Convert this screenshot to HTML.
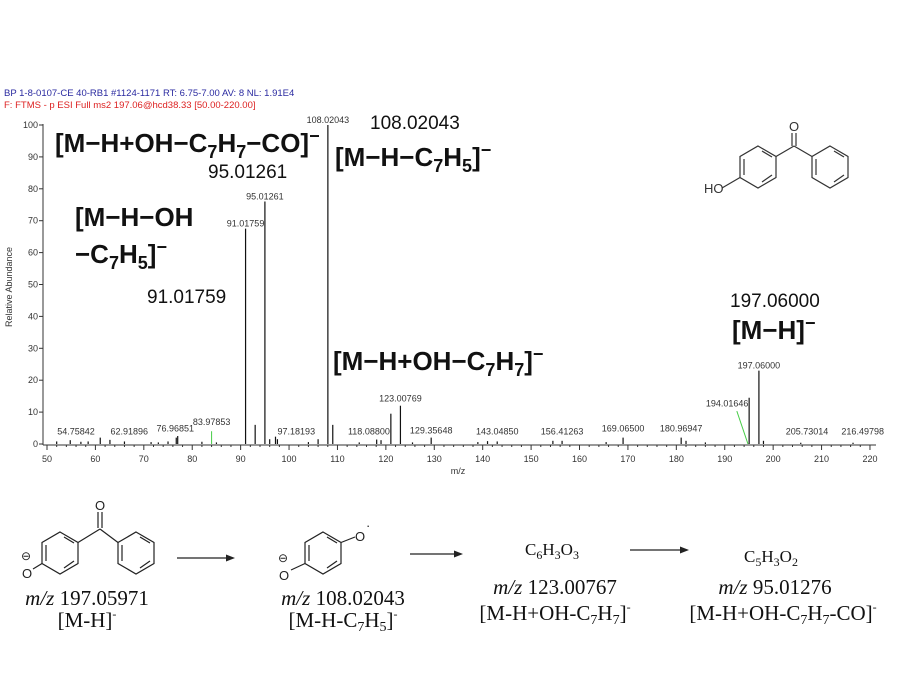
<!DOCTYPE html>
<html><head><meta charset="utf-8"><style>
body{margin:0;background:#fff;width:900px;height:675px;overflow:hidden}
svg{display:block}
.s{font-family:"Liberation Sans",sans-serif;font-size:9px;fill:#333}
.b{font-family:"Liberation Sans",sans-serif;font-weight:bold;font-size:26px;fill:#111}
.n{font-family:"Liberation Sans",sans-serif;font-size:19px;fill:#111}
.r{font-family:"Liberation Serif",serif;font-size:21px;fill:#111}
.r2{font-family:"Liberation Serif",serif;font-size:17px;fill:#111}
</style></head><body>
<svg width="900" height="675" viewBox="0 0 900 675" xmlns="http://www.w3.org/2000/svg">
<text x="4" y="96" style="font-family:'Liberation Sans',sans-serif;font-size:9.5px;fill:#2a2aa0">BP 1-8-0107-CE 40-RB1 #1124-1171   RT: 6.75-7.00   AV: 8   NL: 1.91E4</text>
<text x="4" y="108" style="font-family:'Liberation Sans',sans-serif;font-size:9.5px;fill:#d22">F: FTMS - p ESI Full ms2 197.06@hcd38.33 [50.00-220.00]</text>
<g stroke="#333" stroke-width="1" fill="none">
<line x1="43" y1="124" x2="43" y2="445"/>
<line x1="43" y1="445" x2="876" y2="445"/>
</g>
<g class="s" text-anchor="end" id="yt"></g>
<g id="plot"></g>
<text x="10" y="285" class="s" transform="rotate(-90 12 285)" text-anchor="middle">Relative Abundance</text>
<text x="458" y="474" class="s" text-anchor="middle">m/z</text>
<text x="55" y="152" class="b">[M−H+OH−C<tspan font-size="18" dy="6">7</tspan><tspan dy="-6">H</tspan><tspan font-size="18" dy="6">7</tspan><tspan dy="-6">−CO]</tspan><tspan font-size="18" dy="-10">−</tspan></text>
<text x="208" y="178" class="n">95.01261</text>
<text x="370" y="129" class="n">108.02043</text>
<text x="335" y="166" class="b">[M−H−C<tspan font-size="18" dy="6">7</tspan><tspan dy="-6">H</tspan><tspan font-size="18" dy="6">5</tspan><tspan dy="-6">]</tspan><tspan font-size="18" dy="-10">−</tspan></text>
<text x="75" y="226" class="b">[M−H−OH</text>
<text x="75" y="263" class="b">−C<tspan font-size="18" dy="6">7</tspan><tspan dy="-6">H</tspan><tspan font-size="18" dy="6">5</tspan><tspan dy="-6">]</tspan><tspan font-size="18" dy="-10">−</tspan></text>
<text x="147" y="303" class="n">91.01759</text>
<text x="730" y="307" class="n">197.06000</text>
<text x="732" y="339" class="b">[M−H]<tspan font-size="18" dy="-10">−</tspan></text>
<text x="333" y="370" class="b">[M−H+OH−C<tspan font-size="18" dy="6">7</tspan><tspan dy="-6">H</tspan><tspan font-size="18" dy="6">7</tspan><tspan dy="-6">]</tspan><tspan font-size="18" dy="-10">−</tspan></text>
<g stroke="#333" stroke-width="1.2" fill="none">
<polygon points="758,146 776,156.5 776,177.5 758,188 740,177.5 740,156.5"/>
<line x1="762" y1="151" x2="772" y2="157"/><line x1="772" y1="175" x2="762" y2="182"/><line x1="744" y1="159" x2="744" y2="175"/>
<line x1="776" y1="156.5" x2="794" y2="146"/><line x1="794" y1="146" x2="812" y2="156.5"/>
<line x1="792" y1="146" x2="792" y2="133"/><line x1="796" y1="146" x2="796" y2="133"/>
<polygon points="830,146 848,156.5 848,177.5 830,188 812,177.5 812,156.5"/>
<line x1="834" y1="151" x2="844" y2="157"/><line x1="844" y1="175" x2="834" y2="182"/><line x1="816" y1="159" x2="816" y2="175"/>
<line x1="740" y1="177.5" x2="722" y2="188"/>
</g>
<text x="794" y="131" text-anchor="middle" style="font-family:'Liberation Sans';font-size:13px;fill:#333">O</text>
<text x="704" y="193" style="font-family:'Liberation Sans';font-size:13px;fill:#333">HO</text>
<g stroke="#222" stroke-width="1.2" fill="none">
<polygon points="60,532 78,542.5 78,563.5 60,574 42,563.5 42,542.5"/>
<line x1="64" y1="537" x2="74" y2="543"/><line x1="74" y1="561" x2="64" y2="568"/><line x1="46" y1="545" x2="46" y2="561"/>
<line x1="78" y1="542.5" x2="100" y2="529"/><line x1="100" y1="529" x2="118" y2="542.5"/>
<line x1="98" y1="528" x2="98" y2="512"/><line x1="102" y1="528" x2="102" y2="512"/>
<polygon points="136,532 154,542.5 154,563.5 136,574 118,563.5 118,542.5"/>
<line x1="140" y1="537" x2="150" y2="543"/><line x1="150" y1="561" x2="140" y2="568"/><line x1="122" y1="545" x2="122" y2="561"/>
<line x1="42" y1="563.5" x2="33" y2="569"/>
<line x1="177" y1="558" x2="228" y2="558"/>
<polygon points="323,532 341,542.5 341,563.5 323,574 305,563.5 305,542.5"/>
<line x1="327" y1="537" x2="337" y2="543"/><line x1="337" y1="561" x2="327" y2="568"/><line x1="309" y1="545" x2="309" y2="561"/>
<line x1="305" y1="563.5" x2="291" y2="570"/><line x1="341" y1="542.5" x2="355" y2="537"/>
<line x1="410" y1="554" x2="456" y2="554"/>
<line x1="630" y1="550" x2="682" y2="550"/>
</g>
<g fill="#222"><polygon points="235,558 226,554.5 226,561.5"/><polygon points="463,554 454,550.5 454,557.5"/><polygon points="689,550 680,546.5 680,553.5"/></g>
<g style="font-family:'Liberation Sans';font-size:13px;fill:#222">
<text x="100" y="510" text-anchor="middle">O</text>
<text x="22" y="578">O</text><text x="21" y="560" font-size="12">⊖</text>
<text x="279" y="580">O</text><text x="278" y="562" font-size="12">⊖</text>
<text x="355" y="541">O</text><text x="366" y="530">·</text>
</g>
<text x="87" y="605" class="r" text-anchor="middle"><tspan font-style="italic">m/z</tspan> 197.05971</text>
<text x="87" y="627" class="r" text-anchor="middle">[M-H]<tspan font-size="12" dy="-9">-</tspan></text>
<text x="343" y="605" class="r" text-anchor="middle"><tspan font-style="italic">m/z</tspan> 108.02043</text>
<text x="343" y="627" class="r" text-anchor="middle">[M-H-C<tspan font-size="14" dy="4">7</tspan><tspan dy="-4">H</tspan><tspan font-size="14" dy="4">5</tspan><tspan dy="-4">]</tspan><tspan font-size="12" dy="-9">-</tspan></text>
<text x="552" y="555" class="r2" text-anchor="middle">C<tspan font-size="12" dy="4">6</tspan><tspan dy="-4">H</tspan><tspan font-size="12" dy="4">3</tspan><tspan dy="-4">O</tspan><tspan font-size="12" dy="4">3</tspan></text>
<text x="555" y="594" class="r" text-anchor="middle"><tspan font-style="italic">m/z</tspan> 123.00767</text>
<text x="555" y="620" class="r" text-anchor="middle">[M-H+OH-C<tspan font-size="14" dy="4">7</tspan><tspan dy="-4">H</tspan><tspan font-size="14" dy="4">7</tspan><tspan dy="-4">]</tspan><tspan font-size="12" dy="-9">-</tspan></text>
<text x="771" y="562" class="r2" text-anchor="middle">C<tspan font-size="12" dy="4">5</tspan><tspan dy="-4">H</tspan><tspan font-size="12" dy="4">3</tspan><tspan dy="-4">O</tspan><tspan font-size="12" dy="4">2</tspan></text>
<text x="775" y="594" class="r" text-anchor="middle"><tspan font-style="italic">m/z</tspan> 95.01276</text>
<text x="783" y="620" class="r" text-anchor="middle">[M-H+OH-C<tspan font-size="14" dy="4">7</tspan><tspan dy="-4">H</tspan><tspan font-size="14" dy="4">7</tspan><tspan dy="-4">-CO]</tspan><tspan font-size="12" dy="-9">-</tspan></text>
<script>
var NS="http://www.w3.org/2000/svg";
function X(m){return 47+(m-50)*4.841;}
function Y(p){return 444-p*3.19;}
function el(t,a,p,txt){var e=document.createElementNS(NS,t);for(var k in a)e.setAttribute(k,a[k]);if(txt)e.textContent=txt;p.appendChild(e);return e;}
var yt=document.getElementById("yt"),pl=document.getElementById("plot");
for(var v=0;v<=100;v+=10){el("line",{x1:39,x2:43,y1:Y(v),y2:Y(v),stroke:"#333"},pl);el("text",{x:38,y:Y(v)+3,"class":"s"},yt,String(v));}
for(var m=50;m<=220;m+=2){el("line",{x1:X(m),x2:X(m),y1:445,y2:m%10==0?450:447,stroke:"#333"},pl);if(m%10==0)el("text",{x:X(m),y:462,"class":"s","text-anchor":"middle"},pl,String(m));}
var pk=[[91.018,67.5],[95.013,76],[108.02,100],[121.03,9.5],[123.008,12],[195.04,14.5],[197.06,23],[93,6],[109.03,6],[77,2.5],[76.7,2],[61,2],[63,1.3],[54.8,1.2],[97.2,2.3],[97.6,1.5],[106,1.5],[118.1,1.4],[119,1.2],[129.36,2],[143,0.8],[141,0.9],[156.4,1],[154.5,1],[169,2],[181,2],[182,1],[198,1],[205.7,0.4],[216.5,0.4],[52,0.8],[57,0.7],[58.5,0.8],[66,0.8],[71.5,0.6],[73,0.5],[75,0.8],[82,0.7],[85,0.5],[96,1.5],[114.5,0.5],[125.5,0.5],[165.5,0.6],[186,0.5],[139,0.6],[104,0.6]];
pk.forEach(function(p){el("line",{x1:X(p[0]),x2:X(p[0]),y1:444,y2:Y(p[1]),stroke:"#111","stroke-width":1.2},pl);});
var lb=[[108.02043,108.02,100,-2],[95.01261,95.013,76,-2],[91.01759,91.018,67.5,-2],[197.06000,197.06,23,-2],[194.01646,190.5,10.5,-4],[123.00769,123.008,12,-4],[129.35648,129.36,2,-4],[54.75842,56,2,-3],[62.91896,67,2,-3],[76.96851,76.5,3,-3],[83.97853,84,5,-3],[97.18193,101.5,2,-3],[118.08800,116.5,2,-3],[143.04850,143,2,-3],[156.41263,156.4,2,-3],[169.06500,169,3,-3],[180.96947,181,3,-3],[205.73014,207,2,-3],[216.49798,218.5,2,-3]];
lb.forEach(function(l){el("text",{x:X(l[1]),y:Y(l[2])+l[3],"class":"s","text-anchor":"middle"},pl,l[0].toFixed(5));});
el("line",{x1:X(192.5),y1:Y(10.3),x2:X(194.8),y2:444,stroke:"#4c4"},pl);
el("line",{x1:X(84),y1:Y(4),x2:X(84),y2:444,stroke:"#4c4"},pl);
</script>
</svg>
</body></html>
